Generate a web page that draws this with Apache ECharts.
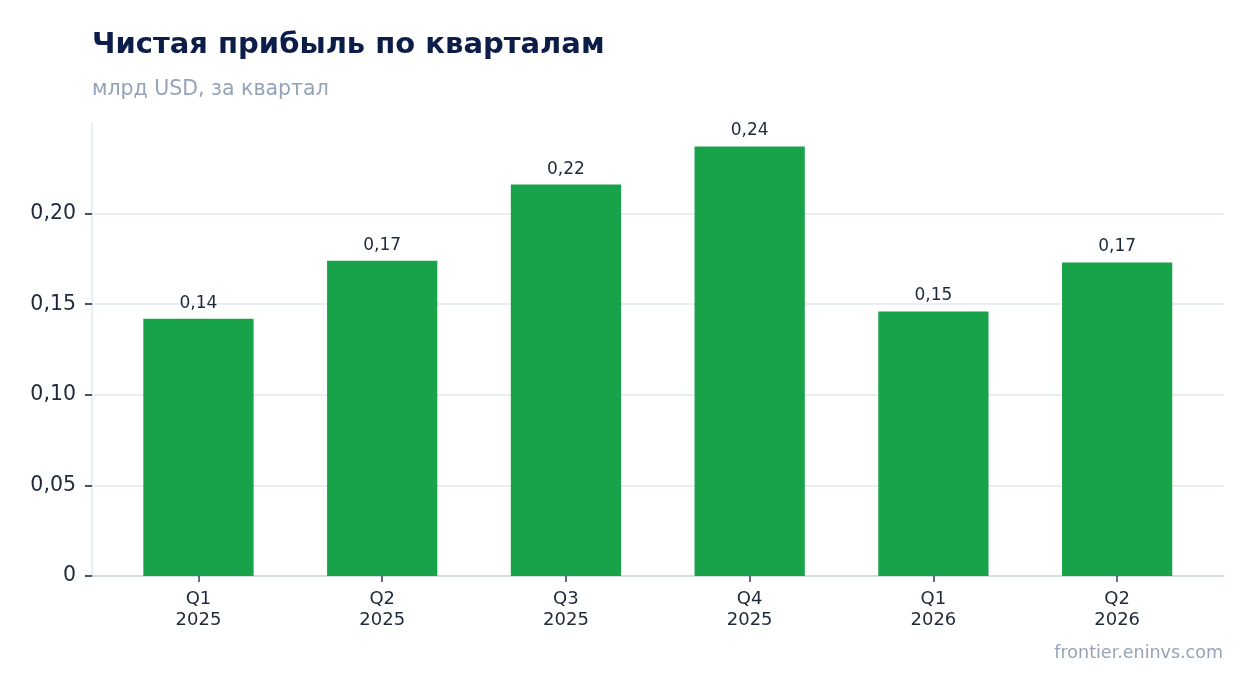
<!DOCTYPE html>
<html><head><meta charset="utf-8">
<script src="https://cdn.jsdelivr.net/npm/echarts@6/dist/echarts.min.js"></script>
<style>html,body{margin:0;padding:0;background:#fff}#c{width:1254px;height:693px}</style>
</head><body><div id="c"></div>
<script>
const categories = ['Q1\n2025','Q2\n2025','Q3\n2025','Q4\n2025','Q1\n2026','Q2\n2026'];
const netProfit = [0.142, 0.174, 0.216, 0.237, 0.146, 0.173];
const yTicks = [0, 0.05, 0.10, 0.15, 0.20];
const fmt = v => v === 0 ? '0' : v.toFixed(2).replace('.', ',');
const chart = echarts.init(document.getElementById('c'));
chart.setOption({
  animation: false,
  textStyle: { fontFamily: 'DejaVu Sans' },
  title: [
    { text: 'Чистая прибыль по кварталам', left: 87, top: 26,
      textStyle: { fontSize: 29, fontWeight: 'bold', color: '#0c1d4a', fontFamily: 'DejaVu Sans' } },
    { text: 'млрд USD, за квартал', left: 87, top: 74,
      textStyle: { fontSize: 20.5, fontWeight: 'normal', color: '#94a3b8', fontFamily: 'DejaVu Sans' } },
    { text: 'frontier.eninvs.com', right: 26, top: 639,
      textStyle: { fontSize: 17.5, fontWeight: 'normal', color: '#94a3b8', fontFamily: 'DejaVu Sans' } }
  ],
  grid: [
    { left: 92, right: 30, top: 123, bottom: 117 },
    { left: 106.6, right: 45, top: 123, bottom: 117 }
  ],
  xAxis: [
    { type: 'category', gridIndex: 0, data: categories,
      axisLine: { lineStyle: { color: '#cbd5e1', width: 1.5 } },
      axisTick: { show: false }, axisLabel: { show: false } },
    { type: 'category', gridIndex: 1, data: categories,
      axisLine: { show: false },
      axisTick: { show: true, alignWithLabel: true, length: 6, lineStyle: { color: '#334155', width: 1.5 } },
      axisLabel: { fontSize: 18, color: '#1e293b', lineHeight: 21, margin: 13 } }
  ],
  yAxis: [
    { type: 'value', gridIndex: 0, min: 0, max: 0.25, interval: 0.05,
      axisLine: { show: true, lineStyle: { color: '#e2e8f0', width: 1.5 } },
      axisTick: { show: true, length: 7, customValues: yTicks, lineStyle: { color: '#334155', width: 1.8 } },
      axisLabel: { fontSize: 20.5, color: '#1e293b', margin: 16, padding: [4, 0, 0, 0], customValues: yTicks, formatter: fmt },
      splitLine: { show: true, lineStyle: { color: '#e2e8f0', width: 1.5 } } },
    { type: 'value', gridIndex: 1, min: 0, max: 0.25, interval: 0.05, show: false,
      splitLine: { show: false } }
  ],
  series: [{
    type: 'bar', xAxisIndex: 1, yAxisIndex: 1, data: netProfit, barWidth: '60%',
    itemStyle: { color: '#18a34a' },
    label: { show: true, position: 'top', distance: 7, fontSize: 17, color: '#1e293b',
      formatter: p => fmt(p.value) }
  }]
});
</script></body></html>
